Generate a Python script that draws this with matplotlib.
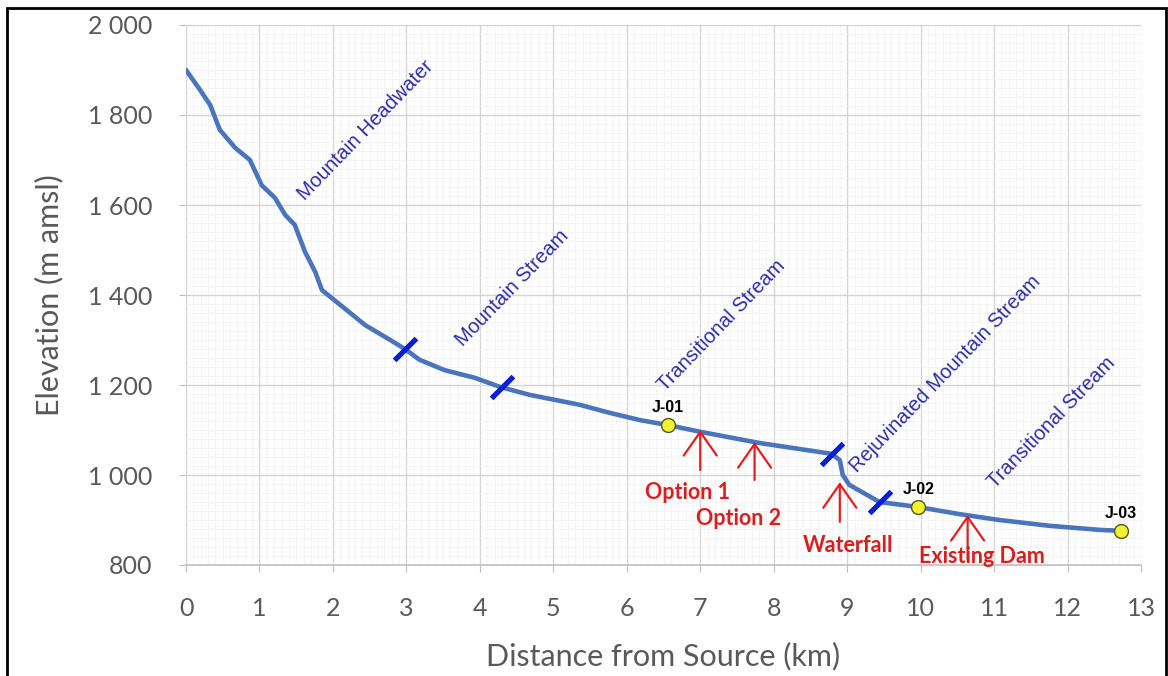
import numpy as np
import matplotlib.pyplot as plt
from matplotlib.patches import Rectangle
from matplotlib.ticker import MultipleLocator, FuncFormatter

# river long profile (km, m amsl)
dist = [0.0, 0.19, 0.33, 0.46, 0.67, 0.87, 1.03, 1.21, 1.35, 1.48, 1.62, 1.76,
        1.85, 2.1, 2.44, 2.78, 2.98, 3.18, 3.52, 3.93, 4.27, 4.68, 5.36, 5.77,
        6.18, 6.56, 7.0, 7.81, 8.63, 8.79, 8.9, 8.94, 9.03, 9.44, 9.96, 10.53,
        11.07, 11.76, 12.44, 12.73]
elev = [1900, 1856, 1822, 1767, 1727, 1700, 1644, 1616, 1578, 1556, 1496, 1451,
        1411, 1378, 1333, 1300, 1280, 1256, 1233, 1216, 1196, 1178, 1156, 1138,
        1122, 1111, 1096, 1071, 1051, 1047, 1033, 1000, 978, 940, 929, 913,
        900, 887, 878, 876]

# section breaks along the profile
break_x = [2.98, 4.3, 8.8, 9.45]

# junction points
junc_names = ["J-01", "J-02", "J-03"]
junc_x = [6.56, 9.97, 12.73]

# reach names and where they are written
reach_names = ["Mountain Headwater", "Mountain Stream", "Transitional Stream",
               "Rejuvinated Mountain Stream", "Transitional Stream"]
reach_x = [2.45, 4.44, 7.29, 10.34, 11.78]
reach_y = [1767, 1416, 1333, 1224, 1116]

# features marked with red arrows
feat_names = ["Option 1", "Option 2", "Waterfall", "Existing Dam"]
feat_x = [7.0, 7.74, 8.9, 10.64]
feat_tip = [1100, 1073, 984, 911]
feat_tail = [1011, 989, 896, 811]
feat_lab_x = [6.83, 7.52, 9.01, 10.84]
feat_lab_y = [962, 904, 844, 818]

fig = plt.figure(figsize=(11.68, 6.76), dpi=100)
ax = fig.add_axes([186 / 1168, 1 - 565 / 676, (1141 - 186) / 1168, (565 - 25) / 676])

ax.set_xlim(0, 13)
ax.set_ylim(800, 2000)
ax.xaxis.set_major_locator(MultipleLocator(1))
ax.xaxis.set_minor_locator(MultipleLocator(0.1))
ax.yaxis.set_major_locator(MultipleLocator(200))
ax.yaxis.set_minor_locator(MultipleLocator(20))
ax.yaxis.set_major_formatter(FuncFormatter(lambda v, p: f"{int(v):,}".replace(",", " ")))

ax.grid(which="major", color="#d4d4d4", lw=1.0)
ax.grid(which="minor", color="#f2f2f2", lw=0.6)
ax.set_axisbelow(True)
for s in ["top", "right", "left"]:
    ax.spines[s].set_visible(False)
ax.spines["bottom"].set_color("#bfbfbf")
ax.spines["bottom"].set_linewidth(1.2)
ax.tick_params(which="minor", length=0)
ax.tick_params(which="major", colors="#bfbfbf", labelcolor="#595959",
               labelsize=18, length=5)
for lab in ax.get_xticklabels() + ax.get_yticklabels():
    lab.set_family("Lato")
ax.tick_params(axis="x", pad=18)
ax.tick_params(axis="y", pad=19)

ax.set_xlabel("Distance from Source (km)", family="Lato", fontsize=22,
              color="#595959", labelpad=16)
ax.set_ylabel("Elevation (m amsl)", family="Lato", fontsize=22,
              color="#595959", labelpad=18)

ax.plot(dist, elev, color="#4a74bb", lw=3.3, solid_capstyle="round", zorder=3)

break_y = np.interp(break_x, dist, elev)
ax.plot(break_x, break_y, ls="none", marker=(2, 2, -45), markersize=22,
        markeredgewidth=3.5, markeredgecolor="#0a1fd6", zorder=4)

junc_y = np.interp(junc_x, dist, elev)
ax.plot(junc_x, junc_y, ls="none", marker="o", markersize=10,
        markerfacecolor="#f2f230", markeredgecolor="#55551a",
        markeredgewidth=1.0, zorder=5)
for name, x, y in zip(junc_names, junc_x, junc_y):
    ax.text(x, y + 38, name, ha="center", va="center", fontsize=11.5,
            fontweight="bold", family="Liberation Sans", color="black", zorder=6)

for name, x, y in zip(reach_names, reach_x, reach_y):
    ax.text(x, y, name, ha="center", va="center", rotation=46,
            rotation_mode="anchor", fontsize=14.5, family="Liberation Sans",
            color="#2e2ea8", zorder=6)

for name, x, tip, tail, lx, ly in zip(feat_names, feat_x, feat_tip, feat_tail,
                                      feat_lab_x, feat_lab_y):
    ax.annotate("", xy=(x, tip), xytext=(x, tail),
                arrowprops=dict(arrowstyle="->,head_length=0.5,head_width=0.35",
                                color="#e02020", lw=1.6,
                                mutation_scale=34, shrinkA=0, shrinkB=0),
                zorder=6)
    ax.text(lx, ly, name, ha="center", va="center", fontsize=15.5,
            fontweight="bold", family="Lato", color="#d81e1e", zorder=7)

fig.patches.append(Rectangle((7 / 1168, -0.02), (1166 - 7) / 1168, 1.02 - 8 / 676,
                             transform=fig.transFigure, fill=False,
                             edgecolor="black", lw=2.0))

fig.savefig("out.png", dpi=100)
